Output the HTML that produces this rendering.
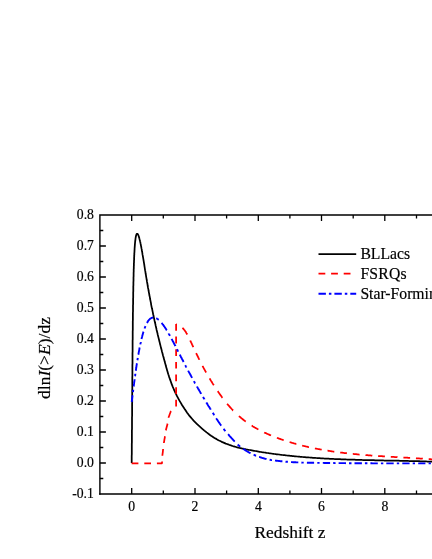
<!DOCTYPE html>
<html><head><meta charset="utf-8"><title>chart</title>
<style>
html,body{margin:0;padding:0;background:#fff;}
body{width:432px;height:559px;overflow:hidden;position:relative;font-family:"Liberation Serif",serif;}
</style></head><body>
<svg width="432" height="559" viewBox="0 0 432 559" style="position:absolute;left:0;top:0;will-change:transform">
<g stroke="#000" stroke-width="1.4" fill="none" stroke-linecap="butt">
<path d="M99.9,494.7 L99.9,215 L440,215"/>
<path d="M99.2,494 L440,494"/>
<path d="M131.7,494 v-6 M131.7,215 v6 M163.3,494 v-3.4 M163.3,215 v3.4 M195.0,494 v-6 M195.0,215 v6 M226.6,494 v-3.4 M226.6,215 v3.4 M258.3,494 v-6 M258.3,215 v6 M289.9,494 v-3.4 M289.9,215 v3.4 M321.5,494 v-6 M321.5,215 v6 M353.2,494 v-3.4 M353.2,215 v3.4 M384.8,494 v-6 M384.8,215 v6 M416.5,494 v-3.4 M416.5,215 v3.4 M448.1,494 v-6 M448.1,215 v6 M99.9,478.5 h3.4 M99.9,463.0 h6 M99.9,447.5 h3.4 M99.9,432.0 h6 M99.9,416.5 h3.4 M99.9,401.0 h6 M99.9,385.5 h3.4 M99.9,370.0 h6 M99.9,354.5 h3.4 M99.9,339.0 h6 M99.9,323.5 h3.4 M99.9,308.0 h6 M99.9,292.5 h3.4 M99.9,277.0 h6 M99.9,261.5 h3.4 M99.9,246.0 h6 M99.9,230.5 h3.4" stroke-width="1.3"/>
</g>
<path d="M131.7,463.0 L131.7,461.2 L131.7,459.5 L131.7,457.7 L131.7,456.0 L131.8,454.2 L131.8,452.5 L131.8,450.8 L131.8,449.0 L131.8,447.3 L131.8,445.6 L131.8,443.9 L131.9,442.2 L131.9,440.5 L131.9,438.8 L131.9,437.2 L131.9,435.5 L131.9,433.8 L131.9,432.2 L131.9,430.5 L132.0,428.9 L132.0,427.3 L132.0,425.6 L132.0,424.0 L132.0,422.4 L132.0,420.8 L132.0,419.2 L132.0,417.6 L132.1,416.0 L132.1,414.5 L132.1,412.9 L132.1,411.3 L132.1,409.8 L132.1,408.2 L132.1,406.7 L132.1,405.1 L132.1,403.6 L132.2,402.1 L132.2,400.6 L132.2,399.1 L132.2,397.6 L132.2,396.1 L132.2,394.6 L132.2,393.1 L132.2,391.6 L132.2,390.1 L132.3,388.7 L132.3,387.2 L132.3,385.8 L132.3,384.3 L132.3,382.9 L132.3,381.5 L132.3,380.1 L132.3,378.6 L132.3,377.2 L132.4,375.8 L132.4,374.4 L132.4,373.1 L132.4,371.7 L132.4,370.3 L132.4,368.9 L132.4,367.6 L132.4,366.2 L132.4,364.9 L132.5,363.6 L132.5,362.2 L132.5,360.9 L132.5,359.6 L132.5,358.3 L132.5,357.0 L132.5,355.7 L132.5,354.4 L132.5,353.1 L132.6,351.8 L132.6,350.6 L132.6,349.3 L132.6,348.0 L132.6,346.8 L132.6,345.5 L132.6,344.3 L132.6,343.1 L132.6,341.9 L132.6,340.6 L132.7,339.4 L132.7,338.2 L132.7,337.0 L132.7,335.9 L132.7,334.7 L132.7,333.5 L132.7,332.3 L132.7,331.2 L132.8,330.0 L132.8,328.9 L132.8,327.7 L132.8,326.6 L132.8,325.5 L132.8,324.4 L132.8,323.3 L132.8,322.2 L132.8,321.1 L132.9,320.0 L132.9,318.9 L132.9,317.8 L132.9,316.7 L132.9,315.7 L132.9,314.6 L132.9,313.6 L132.9,312.5 L133.0,311.5 L133.0,310.5 L133.0,309.4 L133.0,308.4 L133.0,307.4 L133.0,306.4 L133.0,305.4 L133.1,304.4 L133.1,303.4 L133.1,302.5 L133.1,301.5 L133.1,300.5 L133.1,299.6 L133.1,298.6 L133.2,297.7 L133.2,296.8 L133.2,295.8 L133.2,294.9 L133.2,294.0 L133.2,293.1 L133.2,292.2 L133.3,291.3 L133.3,290.4 L133.3,289.5 L133.3,288.7 L133.3,287.8 L133.3,287.0 L133.3,286.1 L133.4,285.3 L133.4,284.4 L133.4,283.6 L133.4,282.8 L133.4,282.0 L133.5,281.1 L133.5,280.3 L133.5,279.5 L133.5,278.8 L133.5,278.0 L133.5,277.2 L133.6,276.4 L133.6,275.7 L133.6,274.9 L133.6,274.2 L133.6,273.4 L133.6,272.7 L133.7,272.0 L133.7,271.2 L133.7,270.5 L133.7,269.8 L133.7,269.1 L133.8,268.4 L133.8,267.7 L133.8,267.1 L133.8,266.4 L133.9,265.7 L133.9,265.1 L133.9,264.4 L133.9,263.8 L133.9,263.1 L134.0,262.5 L134.0,261.9 L134.0,261.3 L134.0,260.6 L134.1,260.0 L134.1,259.4 L134.1,258.9 L134.1,258.3 L134.1,257.7 L134.2,257.1 L134.2,256.6 L134.2,256.0 L134.2,255.5 L134.3,254.9 L134.3,254.4 L134.3,253.8 L134.3,253.3 L134.4,252.8 L134.4,252.3 L134.4,251.8 L134.5,251.3 L134.5,250.8 L134.5,250.3 L134.5,249.9 L134.6,249.4 L134.6,248.9 L134.6,248.5 L134.6,248.0 L134.7,247.6 L134.7,247.2 L134.7,246.7 L134.8,246.3 L134.8,245.9 L134.8,245.5 L134.9,245.1 L134.9,244.7 L134.9,244.3 L134.9,244.0 L135.0,243.6 L135.0,243.2 L135.0,242.9 L135.1,242.5 L135.1,242.2 L135.1,241.8 L135.2,241.5 L135.2,241.2 L135.2,240.9 L135.3,240.6 L135.3,240.3 L135.4,240.0 L135.4,239.7 L135.4,239.4 L135.5,239.1 L135.5,238.8 L135.5,238.6 L135.6,238.3 L135.6,238.1 L135.6,237.8 L135.7,237.6 L135.7,237.4 L135.8,237.2 L135.8,237.0 L135.8,236.7 L135.9,236.5 L135.9,236.4 L136.0,236.2 L136.0,236.0 L136.0,235.8 L136.1,235.7 L136.1,235.5 L136.2,235.3 L136.2,235.2 L136.3,235.1 L136.3,234.9 L136.3,234.8 L136.4,234.7 L136.4,234.6 L136.5,234.5 L136.5,234.4 L136.6,234.3 L136.6,234.2 L136.7,234.1 L136.7,234.1 L136.8,234.0 L136.8,233.9 L136.9,233.9 L136.9,233.9 L137.0,233.8 L137.0,233.8 L137.1,233.8 L137.1,233.8 L137.2,233.8 L137.2,233.8 L137.3,233.8 L137.3,233.8 L137.4,233.8 L137.4,233.8 L137.5,233.9 L137.5,233.9 L137.6,233.9 L137.6,234.0 L137.7,234.1 L137.7,234.1 L137.8,234.2 L137.9,234.3 L137.9,234.4 L138.0,234.5 L138.0,234.6 L138.1,234.7 L138.1,234.8 L138.2,234.9 L138.3,235.0 L138.3,235.2 L138.4,235.3 L138.4,235.5 L138.5,235.6 L138.6,235.8 L138.6,236.0 L138.7,236.1 L138.7,236.3 L138.8,236.5 L138.9,236.7 L138.9,236.9 L139.0,237.1 L139.1,237.4 L139.1,237.6 L139.2,237.8 L139.3,238.1 L139.3,238.3 L139.4,238.6 L139.5,238.8 L139.5,239.1 L139.6,239.4 L139.7,239.6 L139.7,239.9 L139.8,240.2 L139.9,240.5 L140.0,240.8 L140.0,241.1 L140.1,241.5 L140.2,241.8 L140.3,242.1 L140.3,242.5 L140.4,242.8 L140.5,243.2 L140.6,243.5 L140.6,243.9 L140.7,244.3 L140.8,244.7 L140.9,245.1 L140.9,245.5 L141.0,245.9 L141.1,246.3 L141.2,246.7 L141.3,247.1 L141.3,247.6 L141.4,248.0 L141.5,248.4 L141.6,248.9 L141.7,249.3 L141.8,249.8 L141.8,250.3 L141.9,250.8 L142.0,251.3 L142.1,251.7 L142.2,252.2 L142.3,252.8 L142.4,253.3 L142.4,253.8 L142.5,254.3 L142.6,254.9 L142.7,255.4 L142.8,255.9 L142.9,256.5 L143.0,257.1 L143.1,257.6 L143.2,258.2 L143.3,258.8 L143.4,259.4 L143.5,260.0 L143.6,260.6 L143.7,261.2 L143.8,261.8 L143.9,262.4 L144.0,263.1 L144.1,263.7 L144.2,264.3 L144.3,265.0 L144.4,265.6 L144.5,266.3 L144.6,267.0 L144.7,267.7 L144.8,268.3 L144.9,269.0 L145.0,269.7 L145.1,270.4 L145.3,271.2 L145.4,271.9 L145.5,272.6 L145.6,273.3 L145.7,274.1 L145.9,274.8 L146.0,275.6 L146.1,276.3 L146.2,277.1 L146.4,277.9 L146.5,278.7 L146.6,279.5 L146.8,280.2 L146.9,281.0 L147.0,281.9 L147.2,282.7 L147.3,283.5 L147.5,284.3 L147.6,285.2 L147.7,286.0 L147.9,286.9 L148.0,287.7 L148.2,288.6 L148.4,289.4 L148.5,290.3 L148.7,291.2 L148.8,292.1 L149.0,293.0 L149.2,293.9 L149.3,294.8 L149.5,295.7 L149.7,296.7 L149.9,297.6 L150.0,298.5 L150.2,299.5 L150.4,300.4 L150.6,301.4 L150.8,302.4 L151.0,303.3 L151.1,304.3 L151.3,305.3 L151.5,306.3 L151.7,307.3 L151.9,308.3 L152.2,309.3 L152.4,310.3 L152.6,311.4 L152.8,312.4 L153.0,313.4 L153.2,314.5 L153.5,315.5 L153.7,316.6 L153.9,317.7 L154.1,318.8 L154.4,319.8 L154.6,320.9 L154.9,322.0 L155.1,323.1 L155.4,324.2 L155.6,325.4 L155.9,326.5 L156.1,327.6 L156.4,328.7 L156.6,329.9 L156.9,331.0 L157.2,332.2 L157.5,333.4 L157.7,334.5 L158.0,335.7 L158.3,336.9 L158.6,338.1 L158.9,339.3 L159.2,340.5 L159.5,341.7 L159.8,342.9 L160.1,344.2 L160.4,345.4 L160.7,346.6 L161.0,347.9 L161.4,349.1 L161.7,350.4 L162.0,351.7 L162.4,353.0 L162.7,354.2 L163.0,355.5 L163.4,356.8 L163.7,358.1 L164.1,359.4 L164.5,360.7 L164.8,362.1 L165.2,363.4 L165.6,364.7 L165.9,366.1 L166.3,367.4 L166.7,368.8 L167.1,370.2 L167.5,371.5 L167.9,372.9 L168.3,374.3 L168.8,375.7 L169.2,377.1 L169.7,378.5 L170.2,379.9 L170.7,381.3 L171.2,382.7 L171.7,384.2 L172.3,385.6 L172.9,387.1 L173.5,388.5 L174.1,390.0 L174.8,391.4 L175.4,392.9 L176.2,394.4 L176.9,395.9 L177.7,397.4 L178.5,398.9 L179.3,400.4 L180.2,401.9 L181.1,403.4 L182.0,405.0 L183.0,406.5 L184.0,408.0 L185.0,409.6 L186.0,411.1 L187.1,412.7 L188.3,414.3 L189.5,415.9 L190.8,417.4 L192.2,419.0 L193.6,420.6 L195.1,422.2 L196.8,423.8 L198.5,425.4 L200.4,427.1 L202.3,428.8 L204.4,430.6 L206.6,432.4 L210.0,435.0 L211.1,435.8 L212.3,436.5 L213.4,437.3 L214.5,438.0 L215.7,438.6 L216.8,439.3 L217.9,439.9 L219.0,440.5 L220.2,441.0 L221.3,441.6 L222.4,442.1 L223.6,442.6 L224.7,443.1 L225.8,443.6 L227.0,444.0 L228.1,444.4 L229.2,444.8 L230.4,445.2 L231.5,445.6 L232.6,446.0 L233.7,446.3 L234.9,446.7 L236.0,447.0 L237.1,447.3 L238.3,447.6 L239.4,447.9 L240.5,448.1 L241.7,448.4 L242.8,448.6 L243.9,448.9 L245.1,449.1 L246.2,449.4 L247.3,449.6 L248.4,449.8 L249.6,450.0 L250.7,450.2 L251.8,450.4 L253.0,450.6 L254.1,450.8 L255.2,451.0 L256.4,451.2 L257.5,451.4 L258.6,451.6 L259.7,451.8 L260.9,452.0 L262.0,452.2 L263.1,452.3 L264.3,452.5 L265.4,452.7 L266.5,452.9 L267.7,453.0 L268.8,453.2 L269.9,453.3 L271.1,453.5 L272.2,453.7 L273.3,453.8 L274.4,454.0 L275.6,454.1 L276.7,454.3 L277.8,454.4 L279.0,454.5 L280.1,454.7 L281.2,454.8 L282.4,455.0 L283.5,455.1 L284.6,455.2 L285.8,455.3 L286.9,455.5 L288.0,455.6 L289.1,455.7 L290.3,455.8 L291.4,455.9 L292.5,456.1 L293.7,456.2 L294.8,456.3 L295.9,456.4 L297.1,456.5 L298.2,456.6 L299.3,456.7 L300.5,456.8 L301.6,456.9 L302.7,457.0 L303.8,457.1 L305.0,457.2 L306.1,457.3 L307.2,457.4 L308.4,457.4 L309.5,457.5 L310.6,457.6 L311.8,457.7 L312.9,457.8 L314.0,457.8 L315.2,457.9 L316.3,458.0 L317.4,458.1 L318.5,458.1 L319.7,458.2 L320.8,458.3 L321.9,458.3 L323.1,458.4 L324.2,458.5 L325.3,458.5 L326.5,458.6 L327.6,458.7 L328.7,458.7 L329.8,458.8 L331.0,458.8 L332.1,458.9 L333.2,458.9 L334.4,459.0 L335.5,459.0 L336.6,459.1 L337.8,459.1 L338.9,459.2 L340.0,459.2 L341.2,459.3 L342.3,459.3 L343.4,459.4 L344.5,459.4 L345.7,459.4 L346.8,459.5 L347.9,459.5 L349.1,459.6 L350.2,459.6 L351.3,459.6 L352.5,459.7 L353.6,459.7 L354.7,459.7 L355.9,459.8 L357.0,459.8 L358.1,459.8 L359.2,459.9 L360.4,459.9 L361.5,459.9 L362.6,460.0 L363.8,460.0 L364.9,460.0 L366.0,460.1 L367.2,460.1 L368.3,460.1 L369.4,460.1 L370.6,460.2 L371.7,460.2 L372.8,460.2 L373.9,460.2 L375.1,460.3 L376.2,460.3 L377.3,460.3 L378.5,460.3 L379.6,460.4 L380.7,460.4 L381.9,460.4 L383.0,460.4 L384.1,460.5 L385.3,460.5 L386.4,460.5 L387.5,460.5 L388.6,460.5 L389.8,460.6 L390.9,460.6 L392.0,460.6 L393.2,460.6 L394.3,460.7 L395.4,460.7 L396.6,460.7 L397.7,460.7 L398.8,460.7 L399.9,460.8 L401.1,460.8 L402.2,460.8 L403.3,460.8 L404.5,460.9 L405.6,460.9 L406.7,460.9 L407.9,460.9 L409.0,461.0 L410.1,461.0 L411.3,461.0 L412.4,461.1 L413.5,461.1 L414.6,461.1 L415.8,461.1 L416.9,461.2 L418.0,461.2 L419.2,461.2 L420.3,461.3 L421.4,461.3 L422.6,461.3 L423.7,461.4 L424.8,461.4 L426.0,461.4 L427.1,461.5 L428.2,461.5 L429.3,461.5 L430.5,461.6 L431.6,461.6 L432.7,461.7 L433.9,461.7 L435.0,461.7" stroke="#000" stroke-width="1.75" fill="none" stroke-linejoin="round"/>
<path d="M131.6,463.3 L132.1,463.3 L132.6,463.3 L133.1,463.3 L133.6,463.3 L134.1,463.3 L134.6,463.3 L135.1,463.3 L135.6,463.3 L136.1,463.3 L136.6,463.3 L137.1,463.3 L137.6,463.3 L138.1,463.3 L138.4,463.3 M144.3,463.3 L144.8,463.3 L145.3,463.3 L145.8,463.3 L146.3,463.3 L146.8,463.3 L147.2,463.3 L147.7,463.3 L148.2,463.3 L148.7,463.3 L149.2,463.3 L149.7,463.3 L150.2,463.3 L150.7,463.3 L151.0,463.3 M156.9,463.3 L157.4,463.3 L157.9,463.3 L158.4,463.3 L158.9,463.3 L159.4,463.3 L159.9,463.3 L160.4,463.3 L160.9,463.3 L161.4,463.3 L161.9,463.3 L162.0,462.9 L162.0,462.4 L162.1,461.9 L162.1,461.6 M162.4,455.7 L162.4,455.2 L162.5,454.7 L162.5,454.2 L162.6,453.7 L162.7,453.2 L162.7,452.8 L162.8,452.3 L162.8,451.8 L162.9,451.3 L162.9,450.8 L163.0,450.3 L163.0,449.8 L163.1,449.3 L163.1,449.0 M163.9,443.1 L163.9,442.6 L164.0,442.1 L164.1,441.6 L164.2,441.1 L164.3,440.6 L164.3,440.1 L164.4,439.6 L164.5,439.1 L164.6,438.6 L164.7,438.1 L164.8,437.6 L164.8,437.1 L164.9,436.6 L165.0,436.3 M165.8,430.4 L166.0,429.9 L166.1,429.4 L166.2,428.9 L166.3,428.4 L166.5,427.9 L166.6,427.4 L166.7,426.9 L166.9,426.4 L167.0,425.9 L167.1,425.4 L167.3,424.9 L167.4,424.4 L167.5,423.9 L167.6,423.6 M168.4,417.8 L168.6,417.3 L168.8,416.8 L169.0,416.3 L169.2,415.8 L169.4,415.3 L169.5,414.8 L169.7,414.3 L169.9,413.8 L170.1,413.3 L170.3,412.8 L170.5,412.3 L170.6,411.8 L170.8,411.3 L171.0,411.0 M176.1,323.9 L176.1,324.4 L176.1,324.9 L176.1,325.4 L176.1,325.9 L176.1,326.4 L176.1,326.9 L176.1,327.4 L176.1,327.9 L176.1,328.4 L176.1,328.9 L176.1,329.4 L176.1,329.9 L176.1,330.4 L176.1,330.7 M176.1,336.6 L176.1,337.1 L176.1,337.6 L176.1,338.1 L176.1,338.6 L176.1,339.1 L176.1,339.6 L176.1,340.1 L176.1,340.6 L176.1,341.1 L176.1,341.6 L176.1,342.1 L176.1,342.6 L176.1,343.1 L176.1,343.4 M176.1,349.3 L176.1,349.8 L176.1,350.3 L176.1,350.8 L176.1,351.3 L176.1,351.8 L176.1,352.3 L176.1,352.8 L176.1,353.3 L176.1,353.8 L176.1,354.3 L176.1,354.8 L176.1,355.3 L176.1,355.8 L176.1,356.0 M176.1,361.9 L176.1,362.4 L176.1,362.9 L176.1,363.4 L176.1,363.9 L176.1,364.4 L176.1,364.9 L176.1,365.4 L176.1,365.8 L176.1,366.3 L176.1,366.8 L176.1,367.3 L176.1,367.8 L176.1,368.3 L176.1,368.6 M176.1,374.5 L176.1,375.0 L176.1,375.5 L176.1,376.0 L176.1,376.5 L176.1,377.0 L176.1,377.5 L176.1,378.0 L176.1,378.5 L176.1,379.0 L176.1,379.5 L176.1,380.0 L176.1,380.5 L176.1,381.0 L176.1,381.3 M176.1,387.2 L176.1,387.7 L176.1,388.2 L176.1,388.7 L176.1,389.2 L176.1,389.7 L176.1,390.2 L176.1,390.7 L176.1,391.2 L176.1,391.7 L176.1,392.2 L176.1,392.7 L176.1,393.2 L176.1,393.7 L176.1,393.9 M176.1,399.8 L176.1,400.3 L176.1,400.8 L176.1,401.3 L176.1,401.8 L176.1,402.3 L176.1,402.8 L176.1,403.3 L176.1,403.8 L176.1,404.3 L176.1,404.8 L176.1,405.3 L176.1,405.8 L176.1,406.3 L176.1,406.6 M176.1,323.9 L176.5,324.0 M182.4,327.8 L182.8,328.2 L183.2,328.6 L183.6,329.1 L184.0,329.6 L184.4,330.0 L184.8,330.5 L185.1,331.0 L185.4,331.4 L185.7,331.8 L186.0,332.3 L186.2,332.7 L186.5,333.2 L186.8,333.6 L187.0,334.1 L187.3,334.5 M190.2,340.5 L190.4,341.0 L190.7,341.5 L190.9,342.0 L191.1,342.4 L191.4,342.9 L191.6,343.4 L191.8,343.9 L192.0,344.4 L192.3,344.9 L192.5,345.4 L192.7,345.9 L192.9,346.3 L193.2,346.8 L193.4,347.2 M196.1,353.1 L196.4,353.6 L196.6,354.1 L196.8,354.6 L197.1,355.0 L197.3,355.5 L197.5,356.0 L197.8,356.5 L198.0,357.0 L198.2,357.4 L198.5,357.9 L198.7,358.4 L198.9,358.9 L199.2,359.3 L199.4,359.8 M202.5,365.8 L202.7,366.2 L203.0,366.7 L203.2,367.2 L203.5,367.6 L203.7,368.1 L204.0,368.6 L204.2,369.0 L204.5,369.5 L204.7,369.9 L205.0,370.4 L205.2,370.9 L205.5,371.3 L205.7,371.8 L206.0,372.2 L206.2,372.5 M209.6,378.4 L209.9,378.9 L210.1,379.3 L210.4,379.8 L210.7,380.3 L211.0,380.7 L211.2,381.1 L211.5,381.6 L211.8,382.0 L212.1,382.5 L212.3,382.9 L212.6,383.4 L212.9,383.8 L213.2,384.3 L213.5,384.7 L213.8,385.2 M217.7,391.1 L218.0,391.5 L218.3,392.0 L218.6,392.4 L218.9,392.8 L219.2,393.3 L219.5,393.7 L219.8,394.1 L220.1,394.6 L220.4,395.0 L220.7,395.4 L221.1,395.9 L221.4,396.3 L221.7,396.7 L222.0,397.2 L222.3,397.6 L222.5,397.8 M227.1,403.7 L227.5,404.2 L227.9,404.7 L228.3,405.2 L228.7,405.6 L229.2,406.1 L229.6,406.6 L230.0,407.1 L230.4,407.6 L230.9,408.0 L231.3,408.5 L231.7,409.0 L232.1,409.4 L232.6,409.9 L233.0,410.4 L233.1,410.4 M238.9,416.1 L239.4,416.5 L239.9,416.9 L240.4,417.3 L240.9,417.7 L241.3,418.1 L241.8,418.5 L242.3,418.9 L242.8,419.3 L243.3,419.7 L243.8,420.1 L244.2,420.5 L244.7,420.8 L245.1,421.1 L245.5,421.4 L245.8,421.6 M251.6,425.6 L252.0,425.8 L252.5,426.1 L252.9,426.4 L253.4,426.7 L253.8,426.9 L254.3,427.2 L254.8,427.5 L255.2,427.7 L255.7,428.0 L256.1,428.3 L256.6,428.5 L257.1,428.8 L257.5,429.0 L258.0,429.3 L258.4,429.5 M264.2,432.4 L264.7,432.7 L265.2,432.9 L265.7,433.1 L266.2,433.3 L266.6,433.6 L267.1,433.8 L267.6,434.0 L268.1,434.2 L268.6,434.4 L269.1,434.6 L269.6,434.9 L270.1,435.1 L270.6,435.3 L271.0,435.5 M276.9,437.8 L277.4,438.0 L277.8,438.1 L278.3,438.3 L278.7,438.4 L279.1,438.6 L279.6,438.8 L280.0,438.9 L280.4,439.1 L280.9,439.2 L281.3,439.4 L281.7,439.5 L282.2,439.7 L282.6,439.8 L283.0,440.0 L283.4,440.1 L283.7,440.2 M289.6,442.1 L290.0,442.2 L290.5,442.3 L290.9,442.5 L291.4,442.6 L291.8,442.7 L292.2,442.9 L292.7,443.0 L293.1,443.1 L293.5,443.2 L294.0,443.4 L294.4,443.5 L294.8,443.6 L295.3,443.7 L295.7,443.8 L296.2,444.0 L296.3,444.0 M302.2,445.5 L302.7,445.7 L303.1,445.8 L303.5,445.9 L304.0,446.0 L304.4,446.1 L304.9,446.2 L305.3,446.3 L305.7,446.4 L306.2,446.5 L306.6,446.6 L307.1,446.7 L307.5,446.8 L307.9,446.9 L308.4,447.0 L308.8,447.1 L309.0,447.1 M314.9,448.4 L315.3,448.5 L315.7,448.6 L316.2,448.6 L316.6,448.7 L317.1,448.8 L317.5,448.9 L318.0,449.0 L318.4,449.1 L318.9,449.2 L319.3,449.2 L319.7,449.3 L320.2,449.4 L320.6,449.5 L321.1,449.6 L321.5,449.6 L321.6,449.7 M327.5,450.7 L328.0,450.7 L328.4,450.8 L328.9,450.9 L329.3,450.9 L329.7,451.0 L330.2,451.1 L330.6,451.1 L331.1,451.2 L331.5,451.3 L332.0,451.3 L332.4,451.4 L332.9,451.5 L333.3,451.5 L333.8,451.6 L334.2,451.7 L334.3,451.7 M340.2,452.5 L340.6,452.5 L341.1,452.6 L341.5,452.6 L342.0,452.7 L342.4,452.7 L342.9,452.8 L343.3,452.9 L343.8,452.9 L344.2,453.0 L344.7,453.0 L345.1,453.1 L345.6,453.1 L346.0,453.2 L346.5,453.2 L346.9,453.3 M352.8,453.9 L353.2,453.9 L353.7,454.0 L354.1,454.0 L354.6,454.1 L355.1,454.1 L355.5,454.2 L356.0,454.2 L356.4,454.2 L356.9,454.3 L357.3,454.3 L357.8,454.4 L358.2,454.4 L358.7,454.5 L359.1,454.5 L359.6,454.5 M365.5,455.0 L365.9,455.1 L366.4,455.1 L366.8,455.1 L367.3,455.2 L367.7,455.2 L368.2,455.3 L368.6,455.3 L369.1,455.3 L369.6,455.4 L370.0,455.4 L370.5,455.4 L370.9,455.5 L371.4,455.5 L371.8,455.5 L372.3,455.6 M378.1,456.0 L378.5,456.0 L379.0,456.0 L379.5,456.1 L379.9,456.1 L380.4,456.1 L380.8,456.1 L381.3,456.2 L381.7,456.2 L382.2,456.2 L382.6,456.3 L383.1,456.3 L383.5,456.3 L384.0,456.3 L384.4,456.4 L384.9,456.4 M390.8,456.8 L391.3,456.8 L391.7,456.8 L392.2,456.8 L392.6,456.9 L393.1,456.9 L393.5,456.9 L394.0,456.9 L394.4,457.0 L394.9,457.0 L395.4,457.0 L395.8,457.1 L396.3,457.1 L396.7,457.1 L397.2,457.1 L397.5,457.2 M403.4,457.5 L403.9,457.5 L404.3,457.5 L404.8,457.6 L405.2,457.6 L405.7,457.6 L406.2,457.6 L406.6,457.7 L407.1,457.7 L407.5,457.7 L408.0,457.8 L408.4,457.8 L408.9,457.8 L409.3,457.8 L409.8,457.9 L410.1,457.9 M416.0,458.2 L416.5,458.3 L416.9,458.3 L417.4,458.3 L417.8,458.4 L418.3,458.4 L418.7,458.4 L419.2,458.4 L419.7,458.5 L420.1,458.5 L420.6,458.5 L421.0,458.6 L421.5,458.6 L421.9,458.6 L422.4,458.6 L422.8,458.7 M428.7,459.1 L429.1,459.1 L429.6,459.2 L430.0,459.2 L430.5,459.2 L430.9,459.3 L431.4,459.3 L431.8,459.3 L432.3,459.4 L432.7,459.4 L433.2,459.4 L433.6,459.5 L434.1,459.5 L434.5,459.5 L435.0,459.6" stroke="#ff0000" stroke-width="1.75" fill="none" stroke-linejoin="round"/>
<path d="M131.7,402.0 L131.8,401.5 L131.8,401.1 L131.9,400.6 L132.0,400.2 L132.0,399.7 L132.1,399.2 L132.1,398.8 L132.2,398.3 L132.2,397.9 L132.3,397.4 L132.4,396.9 L132.4,396.4 L132.5,395.9 L132.5,395.5 L132.6,395.2 M132.9,392.1 L133.0,391.6 L133.1,391.2 L133.1,390.7 L133.2,390.2 L133.2,389.7 M133.6,386.6 L133.7,386.2 L133.8,385.7 L133.8,385.2 L133.9,384.8 L133.9,384.3 L134.0,383.9 L134.1,383.4 L134.1,383.0 L134.2,382.5 L134.2,382.1 L134.3,381.6 L134.4,381.2 L134.4,380.7 L134.5,380.3 L134.6,379.8 L134.6,379.3 M135.0,376.2 L135.1,375.8 L135.2,375.3 L135.2,374.8 L135.3,374.3 L135.4,373.9 L135.4,373.8 M135.8,370.8 L135.9,370.3 L135.9,369.9 L136.0,369.4 L136.1,369.0 L136.1,368.5 L136.2,368.1 L136.3,367.6 L136.3,367.2 L136.4,366.7 L136.5,366.3 L136.5,365.8 L136.6,365.3 L136.7,364.8 L136.8,364.3 L136.8,363.8 L136.9,363.3 M137.4,360.3 L137.5,359.8 L137.6,359.3 L137.6,358.9 L137.7,358.4 L137.8,358.0 L137.8,357.9 M138.3,354.8 L138.4,354.4 L138.5,353.9 L138.6,353.5 L138.6,353.1 L138.7,352.6 L138.8,352.1 L138.9,351.6 L139.0,351.1 L139.1,350.6 L139.2,350.1 L139.3,349.6 L139.4,349.2 L139.4,348.7 L139.5,348.2 L139.6,347.8 L139.7,347.5 M140.3,344.4 L140.4,343.9 L140.5,343.5 L140.6,343.1 L140.7,342.7 L140.8,342.2 L140.8,342.0 M141.5,339.0 L141.6,338.5 L141.7,338.0 L141.9,337.6 L142.0,337.1 L142.1,336.7 L142.2,336.3 L142.3,335.8 L142.4,335.4 L142.5,335.0 L142.7,334.6 L142.8,334.1 L142.9,333.7 L143.0,333.3 L143.1,332.9 L143.3,332.4 L143.4,331.9 L143.5,331.6 M144.6,328.5 L144.7,328.1 L144.9,327.7 L145.0,327.3 L145.2,326.9 L145.3,326.5 L145.5,326.1 M146.9,323.0 L147.2,322.6 L147.4,322.3 L147.6,321.9 L147.8,321.6 L148.1,321.1 L148.4,320.6 L148.8,320.2 L149.1,319.8 L149.5,319.4 L149.8,319.1 L150.2,318.8 L150.5,318.5 L150.9,318.3 L151.2,318.1 L151.6,317.9 L152.0,317.8 L152.4,317.6 L152.7,317.6 L153.1,317.5 L153.3,317.5 M156.3,318.2 L156.7,318.4 L157.1,318.7 L157.6,319.0 L158.0,319.3 L158.4,319.7 L158.7,319.9 M161.6,322.9 L161.9,323.3 L162.2,323.7 L162.5,324.1 L162.9,324.5 L163.2,325.0 L163.6,325.4 L163.9,325.9 L164.2,326.4 L164.5,326.8 L164.8,327.2 L165.0,327.6 L165.3,328.0 L165.6,328.4 L165.8,328.8 L166.1,329.2 L166.4,329.7 L166.6,330.1 L166.8,330.3 M168.6,333.3 L168.8,333.8 L169.0,334.2 L169.3,334.6 L169.5,335.0 L169.7,335.4 L169.9,335.8 M171.6,338.8 L171.8,339.3 L172.1,339.7 L172.3,340.2 L172.6,340.7 L172.8,341.2 L173.1,341.7 L173.3,342.1 L173.6,342.6 L173.8,343.0 L174.0,343.4 L174.2,343.8 L174.4,344.3 L174.7,344.7 L174.9,345.1 L175.1,345.6 L175.4,346.0 L175.4,346.1 M177.0,349.3 L177.3,349.7 L177.5,350.2 L177.7,350.7 L178.0,351.2 L178.2,351.7 M179.8,354.7 L180.0,355.1 L180.3,355.6 L180.5,356.0 L180.7,356.5 L180.9,356.9 L181.2,357.4 L181.4,357.8 L181.7,358.3 L181.9,358.7 L182.1,359.2 L182.4,359.7 L182.6,360.1 L182.9,360.6 L183.1,361.1 L183.4,361.6 L183.6,362.0 M185.2,365.2 L185.5,365.7 L185.8,366.1 L186.0,366.6 L186.2,367.0 L186.5,367.5 L186.5,367.5 M188.2,370.6 L188.4,371.1 L188.6,371.5 L188.9,372.0 L189.1,372.5 L189.4,372.9 L189.7,373.4 L189.9,373.9 L190.2,374.3 L190.4,374.8 L190.7,375.3 L190.9,375.8 L191.2,376.3 L191.5,376.7 L191.7,377.2 L192.0,377.7 L192.1,377.9 M193.9,381.1 L194.1,381.5 L194.4,382.0 L194.6,382.4 L194.9,382.9 L195.1,383.3 L195.2,383.4 M197.0,386.5 L197.2,387.0 L197.5,387.5 L197.8,387.9 L198.0,388.4 L198.3,388.9 L198.6,389.3 L198.8,389.8 L199.1,390.3 L199.4,390.8 L199.7,391.3 L200.0,391.7 L200.2,392.2 L200.5,392.7 L200.8,393.2 L201.1,393.7 L201.2,393.9 M203.0,396.9 L203.3,397.4 L203.6,397.8 L203.8,398.3 L204.1,398.7 L204.4,399.2 L204.4,399.3 M206.3,402.4 L206.6,402.9 L206.9,403.3 L207.2,403.8 L207.4,404.3 L207.7,404.8 L208.0,405.2 L208.3,405.7 L208.6,406.2 L208.9,406.6 L209.2,407.1 L209.5,407.6 L209.8,408.1 L210.1,408.6 L210.4,409.0 L210.7,409.5 L210.8,409.7 M212.8,412.8 L213.1,413.3 L213.4,413.8 L213.7,414.3 L214.0,414.8 L214.3,415.2 M216.2,418.3 L216.5,418.7 L216.8,419.2 L217.1,419.6 L217.4,420.1 L217.7,420.6 L218.1,421.1 L218.4,421.6 L218.7,422.1 L219.1,422.6 L219.4,423.1 L219.7,423.6 L220.1,424.0 L220.4,424.5 L220.8,425.0 L221.1,425.5 L221.3,425.7 M223.5,428.8 L223.9,429.2 L224.2,429.7 L224.6,430.2 L225.0,430.6 L225.4,431.1 M228.1,434.2 L228.5,434.6 L228.9,435.1 L229.3,435.6 L229.7,436.1 L230.2,436.6 L230.6,437.1 L231.0,437.6 L231.5,438.0 L231.9,438.5 L232.3,439.0 L232.8,439.5 L233.2,440.0 L233.6,440.4 L234.1,440.9 L234.5,441.4 L234.7,441.6 M237.7,444.5 L238.2,445.0 L238.7,445.4 L239.2,445.8 L239.6,446.2 L240.1,446.6 L240.2,446.7 M243.2,448.9 L243.7,449.2 L244.2,449.5 L244.6,449.8 L245.1,450.1 L245.6,450.4 L246.1,450.7 L246.5,451.0 L247.0,451.3 L247.5,451.6 L248.0,451.8 L248.4,452.1 L248.9,452.4 L249.4,452.6 L249.8,452.9 L250.3,453.1 L250.6,453.3 M253.6,454.7 L254.1,454.9 L254.6,455.1 L255.0,455.3 L255.5,455.5 L256.0,455.7 L256.1,455.7 M259.1,456.9 L259.6,457.0 L260.1,457.2 L260.5,457.3 L261.0,457.5 L261.5,457.7 L261.9,457.8 L262.4,458.0 L262.9,458.1 L263.4,458.2 L263.8,458.4 L264.3,458.5 L264.8,458.6 L265.3,458.8 L265.7,458.9 L266.2,459.0 L266.5,459.1 M269.6,459.7 L270.1,459.8 L270.6,459.9 L271.0,460.0 L271.5,460.1 L272.0,460.1 M275.0,460.5 L275.5,460.6 L275.9,460.6 L276.4,460.7 L276.9,460.8 L277.4,460.8 L277.8,460.9 L278.3,460.9 L278.8,461.0 L279.3,461.0 L279.7,461.1 L280.2,461.1 L280.7,461.2 L281.1,461.2 L281.6,461.3 L282.1,461.3 L282.4,461.3 M285.5,461.6 L286.0,461.7 L286.4,461.7 L286.9,461.8 L287.4,461.8 L287.9,461.8 M291.0,462.1 L291.5,462.1 L291.9,462.1 L292.4,462.1 L292.9,462.2 L293.3,462.2 L293.8,462.2 L294.3,462.3 L294.8,462.3 L295.2,462.3 L295.7,462.3 L296.2,462.4 L296.7,462.4 L297.1,462.4 L297.6,462.4 L298.1,462.4 L298.3,462.4 M301.4,462.5 L301.9,462.6 L302.3,462.6 L302.8,462.6 L303.3,462.6 L303.7,462.6 M306.9,462.7 L307.3,462.7 L307.8,462.7 L308.3,462.7 L308.8,462.7 L309.2,462.7 L309.7,462.7 L310.2,462.7 L310.6,462.8 L311.1,462.8 L311.6,462.8 L312.1,462.8 L312.5,462.8 L313.0,462.8 L313.5,462.8 L314.0,462.8 L314.1,462.8 M317.3,462.9 L317.7,462.9 L318.2,462.9 L318.7,462.9 L319.2,462.9 L319.6,462.9 M322.8,462.9 L323.2,462.9 L323.7,462.9 L324.2,463.0 L324.6,463.0 L325.1,463.0 L325.6,463.0 L326.1,463.0 L326.5,463.0 L327.0,463.0 L327.5,463.0 L328.0,463.0 L328.4,463.0 L328.9,463.0 L329.4,463.0 L329.8,463.0 L330.1,463.0 M333.2,463.0 L333.6,463.0 L334.1,463.0 L334.6,463.1 L335.0,463.1 L335.5,463.1 L335.6,463.1 M338.6,463.1 L339.1,463.1 L339.6,463.1 L340.1,463.1 L340.5,463.1 L341.0,463.1 L341.5,463.1 L341.9,463.1 L342.4,463.1 L342.9,463.1 L343.4,463.1 L343.8,463.1 L344.3,463.1 L344.8,463.1 L345.3,463.1 L345.7,463.2 L346.0,463.2 M349.0,463.2 L349.5,463.2 L350.0,463.2 L350.5,463.2 L350.9,463.2 L351.4,463.2 L351.5,463.2 M354.5,463.2 L355.0,463.2 L355.5,463.2 L355.9,463.2 L356.4,463.3 L356.9,463.3 L357.4,463.3 L357.8,463.3 L358.3,463.3 L358.8,463.3 L359.3,463.3 L359.7,463.3 L360.2,463.3 L360.7,463.3 L361.1,463.3 L361.6,463.3 L361.9,463.3 M364.9,463.3 L365.4,463.3 L365.9,463.3 L366.3,463.3 L366.8,463.3 L367.3,463.3 L367.4,463.3 M370.4,463.3 L370.9,463.3 L371.4,463.3 L371.8,463.3 L372.3,463.4 L372.8,463.4 L373.2,463.4 L373.7,463.4 L374.2,463.4 L374.7,463.4 L375.1,463.4 L375.6,463.4 L376.1,463.4 L376.6,463.4 L377.0,463.4 L377.5,463.4 L377.8,463.4 M380.9,463.4 L381.4,463.4 L381.9,463.4 L382.3,463.4 L382.8,463.4 L383.3,463.4 M386.3,463.4 L386.8,463.4 L387.2,463.4 L387.7,463.4 L388.2,463.4 L388.7,463.4 L389.1,463.4 L389.6,463.4 L390.1,463.4 L390.6,463.4 L391.0,463.4 L391.5,463.4 L392.0,463.4 L392.4,463.4 L392.9,463.4 L393.4,463.4 L393.7,463.4 M396.8,463.4 L397.3,463.4 L397.7,463.4 L398.2,463.4 L398.7,463.4 L399.2,463.4 M402.3,463.4 L402.8,463.4 L403.2,463.4 L403.7,463.4 L404.2,463.4 L404.6,463.4 L405.1,463.4 L405.6,463.4 L406.1,463.4 L406.5,463.4 L407.0,463.4 L407.5,463.4 L408.0,463.4 L408.4,463.4 L408.9,463.4 L409.4,463.4 L409.6,463.4 M412.7,463.4 L413.2,463.4 L413.6,463.4 L414.1,463.4 L414.6,463.4 L415.0,463.4 M418.2,463.4 L418.6,463.4 L419.1,463.4 L419.6,463.4 L420.1,463.4 L420.5,463.4 L421.0,463.4 L421.5,463.4 L422.0,463.4 L422.4,463.4 L422.9,463.4 L423.4,463.4 L423.8,463.4 L424.3,463.4 L424.8,463.4 L425.3,463.4 L425.4,463.4 M428.6,463.4 L429.0,463.4 L429.5,463.4 L430.0,463.4 L430.5,463.4 L430.9,463.4 M434.1,463.4 L434.5,463.4 L435.0,463.4" stroke="#0000ff" stroke-width="1.9" fill="none" stroke-linejoin="round"/>
<path d="M318.5,254 H356.2" stroke="#000" stroke-width="1.75"/>
<path d="M318.5,273.7 h6.8 m5.8,0 h6.8 m5.8,0 h6.8" stroke="#ff0000" stroke-width="1.75"/>
<path d="M318.5,293.7 h7.4 m3,0 h2.5 m3,0 h7.4 m3,0 h2.5 m3,0 h5.9" stroke="#0000ff" stroke-width="1.9"/>
<g font-family="Liberation Serif, serif" fill="#000" stroke="#000" stroke-width="0.18" stroke-linejoin="round">
<g font-size="13.7px" text-anchor="end">
<text x="93.9" y="498.4">-0.1</text>
<text x="93.9" y="467.4">0.0</text>
<text x="93.9" y="436.4">0.1</text>
<text x="93.9" y="405.4">0.2</text>
<text x="93.9" y="374.4">0.3</text>
<text x="93.9" y="343.4">0.4</text>
<text x="93.9" y="312.4">0.5</text>
<text x="93.9" y="281.4">0.6</text>
<text x="93.9" y="250.4">0.7</text>
<text x="93.9" y="219.4">0.8</text>
</g>
<g font-size="13.7px" text-anchor="middle">
<text x="131.7" y="511.1">0</text>
<text x="195.0" y="511.1">2</text>
<text x="258.3" y="511.1">4</text>
<text x="321.5" y="511.1">6</text>
<text x="384.8" y="511.1">8</text>
</g>
<g font-size="15.7px">
<text x="360.4" y="259">BLLacs</text>
<text x="360.4" y="279.3" letter-spacing="0.2">FSRQs</text>
<text x="360.4" y="299.3">Star-Forming</text>
</g>
<text x="290" y="537.8" font-size="17.4px" text-anchor="middle">Redshift z</text>
<text transform="translate(50,358) rotate(-90)" font-size="17.5px" text-anchor="middle">dln<tspan font-style="italic">I</tspan>(&gt;<tspan font-style="italic">E</tspan>)/dz</text>
</g>
</svg>
</body></html>
